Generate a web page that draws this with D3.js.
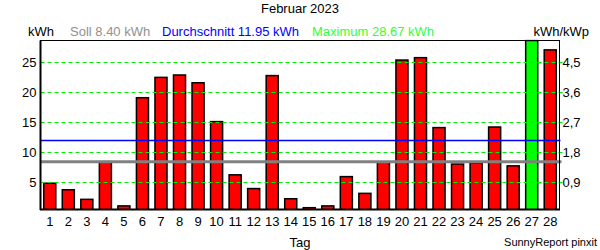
<!DOCTYPE html>
<html>
<head>
<meta charset="utf-8">
<script src="https://cdn.jsdelivr.net/npm/d3@7"></script>
<style>
  html, body { margin: 0; padding: 0; background: #fff; }
  svg { display: block; font-family: "Liberation Sans", Arial, sans-serif; }
</style>
</head>
<body>
<svg id="chart" width="600" height="250"></svg>
<script>
// ---- data ----
const days = ["1","2","3","4","5","6","7","8","9","10","11","12","13","14","15","16","17","18","19","20","21","22","23","24","25","26","27","28"];
const energy = [4.8, 3.7, 2.1, 8.4, 1.0, 19.1, 22.5, 22.9, 21.6, 15.1, 6.2, 3.9, 22.8, 2.2, 0.7, 1.0, 5.9, 3.1, 8.3, 25.4, 25.8, 14.1, 8.0, 8.2, 14.2, 7.7, 28.67, 27.1];
const soll = 8.40;
const average = 11.95;
const maximum = 28.67;
const leftTicks = [5, 10, 15, 20, 25];
const rightTickLabels = ["0,9", "1,8", "2,7", "3,6", "4,5"];
const title = "Februar 2023";

// ---- layout ----
const svg = d3.select("#chart");
const L = 40.5, R = 559.5, T = 40.5, B = 209.5;

const x = d3.scaleBand().domain(days).range([L, R]).paddingInner(0.35).paddingOuter(0.175);
const y = d3.scaleLinear().domain([0.4, maximum]).range([B, T]);

const maxIdx = energy.indexOf(d3.max(energy));

// clip for bars
svg.append("clipPath").attr("id", "plotclip")
  .append("rect").attr("x", L).attr("y", T - 1).attr("width", R - L).attr("height", B - T + 1);

// bars
svg.append("g").attr("clip-path", "url(#plotclip)")
  .selectAll("rect").data(energy).join("rect")
  .attr("x", (d, i) => x(days[i]))
  .attr("y", d => y(d))
  .attr("width", x.bandwidth())
  .attr("height", d => B - y(d) + 2)
  .attr("fill", (d, i) => i === maxIdx ? "#00ff00" : "#ff0000")
  .attr("stroke", "#000")
  .attr("stroke-width", 1.5);

// gridlines (dashed green) extending as right ticks
svg.append("g").selectAll("line").data(leftTicks).join("line")
  .attr("x1", L).attr("x2", R + 3)
  .attr("y1", d => Math.round(y(d)) + 0.5).attr("y2", d => Math.round(y(d)) + 0.5)
  .attr("stroke", "#00ee00").attr("stroke-width", 1)
  .attr("stroke-dasharray", "4,3");

// average line
svg.append("line")
  .attr("x1", L).attr("x2", R + 1)
  .attr("y1", Math.round(y(average)) + 0.5).attr("y2", Math.round(y(average)) + 0.5)
  .attr("stroke", "#0000ff").attr("stroke-width", 1.5);

// soll line
svg.append("line")
  .attr("x1", L).attr("x2", R + 2)
  .attr("y1", y(soll)).attr("y2", y(soll))
  .attr("stroke", "#808080").attr("stroke-width", 3);

// frame
svg.append("rect")
  .attr("x", L).attr("y", T).attr("width", R - L).attr("height", B - T)
  .attr("fill", "none").attr("stroke", "#000").attr("stroke-width", 1);
svg.append("line").attr("x1", L).attr("x2", L).attr("y1", T).attr("y2", B + 0.5)
  .attr("stroke", "#000").attr("stroke-width", 2);
svg.append("line").attr("x1", L - 0.5).attr("x2", R + 0.5).attr("y1", B).attr("y2", B)
  .attr("stroke", "#000").attr("stroke-width", 2);

// axes
const xAxis = svg.append("g").attr("transform", `translate(0,${B})`)
  .call(d3.axisBottom(x).tickSize(0).tickPadding(7));
xAxis.select(".domain").remove();
xAxis.selectAll("text").attr("font-size", 13).attr("fill", "#000").attr("font-family", "Liberation Sans, Arial, sans-serif");

const yAxis = svg.append("g").attr("transform", `translate(${L},0)`)
  .call(d3.axisLeft(y).tickValues(leftTicks).tickSize(0).tickPadding(4));
yAxis.select(".domain").remove();
yAxis.selectAll("text").attr("font-size", 13).attr("fill", "#000").attr("font-family", "Liberation Sans, Arial, sans-serif");

const yAxisR = svg.append("g").attr("transform", `translate(${R},0)`)
  .call(d3.axisRight(y).tickValues(leftTicks).tickFormat((d, i) => rightTickLabels[i]).tickSize(0).tickPadding(3));
yAxisR.select(".domain").remove();
yAxisR.selectAll("text").attr("font-size", 13).attr("fill", "#000").attr("font-family", "Liberation Sans, Arial, sans-serif");

// texts
const txt = (s, xx, yy, opts = {}) => svg.append("text")
  .attr("x", xx).attr("y", yy).text(s)
  .attr("font-size", opts.size || 13)
  .attr("fill", opts.fill || "#000")
  .attr("text-anchor", opts.anchor || "start");

txt(title, 300, 13, { anchor: "middle" });
txt("kWh", 28, 36);
txt(`Soll ${soll.toFixed(2)} kWh`, 70, 36, { fill: "#909090" });
txt(`Durchschnitt ${average.toFixed(2)} kWh`, 162, 36, { fill: "#0000ff" });
txt(`Maximum ${maximum.toFixed(2)} kWh`, 312, 36, { fill: "#33ff33" });
txt("kWh/kWp", 589, 36, { anchor: "end" });
txt("Tag", 300, 247, { anchor: "middle", size: 13 });
txt("SunnyReport pinxit", 597, 246, { anchor: "end", size: 11 });
</script>
</body>
</html>
